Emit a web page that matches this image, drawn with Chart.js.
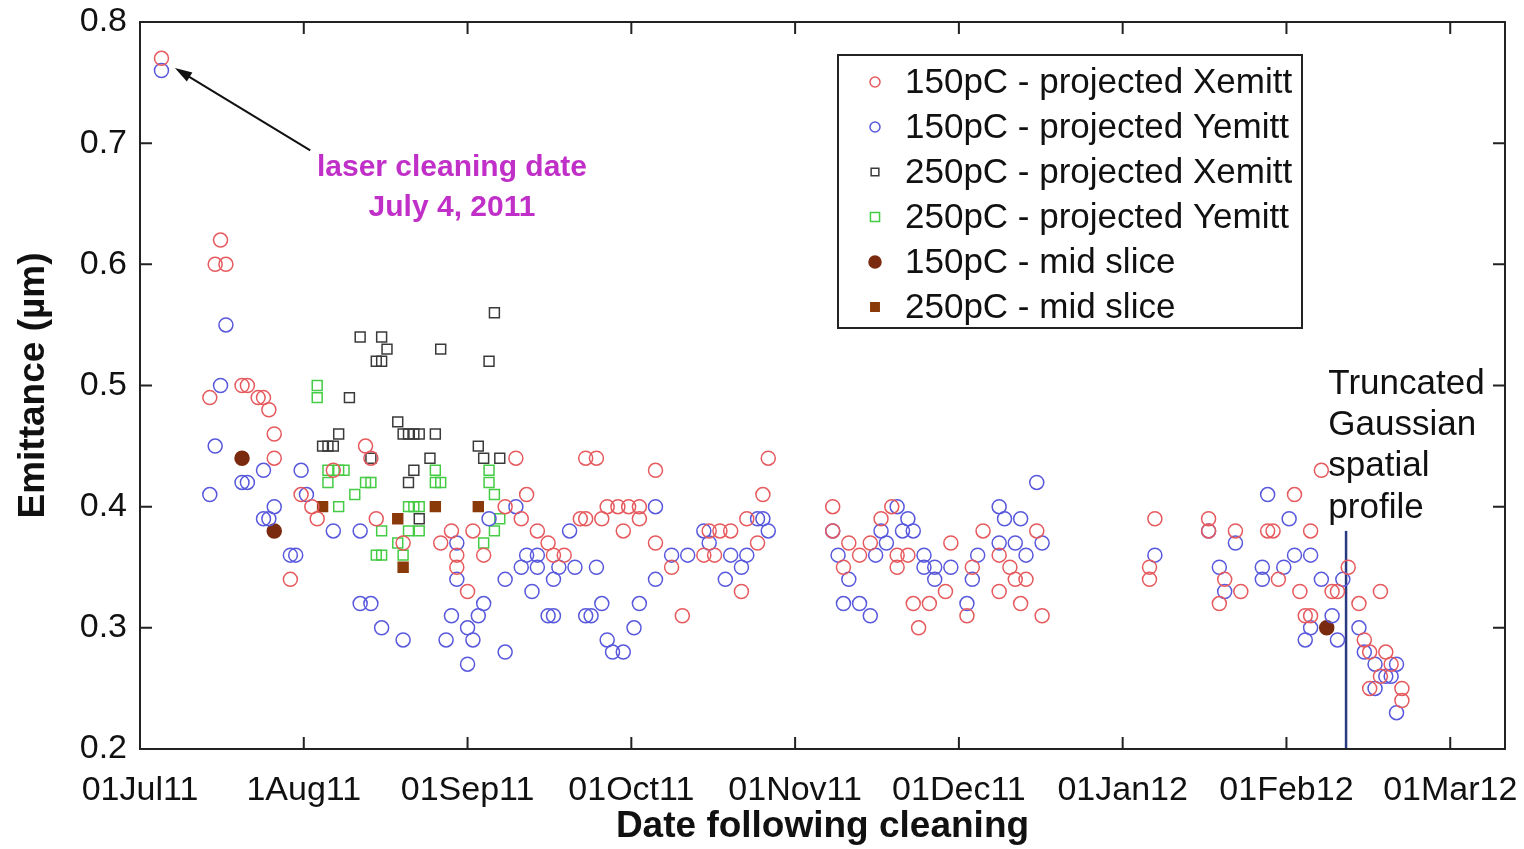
<!DOCTYPE html>
<html>
<head>
<meta charset="utf-8">
<script src="https://cdn.jsdelivr.net/npm/chart.js@4.4.1/dist/chart.umd.min.js"></script>
<style>
  html, body { margin: 0; padding: 0; background: #fff; }
  #wrap { width: 1524px; height: 849px; }
</style>
</head>
<body>
<div id="wrap"><canvas id="emit"></canvas></div>
<script>
// x = days after 01Jul11, y = emittance (um)
const monthLabels = ['01Jul11', '1Aug11', '01Sep11', '01Oct11', '01Nov11', '01Dec11', '01Jan12', '01Feb12', '01Mar12']
const yTicks = [0.2, 0.3, 0.4, 0.5, 0.6, 0.7, 0.8]

const x150 = [[4,0.77],[13,0.49],[14,0.60],[15,0.62],[16,0.60],[19,0.50],[20,0.50],[22,0.49],[23,0.49],[24,0.48],[25,0.46],[25,0.44],[28,0.34],[30,0.41],[32,0.40],[33,0.39],[36,0.43],[42,0.45],[43,0.44],[44,0.39],[49,0.37],[56,0.37],[58,0.38],[59,0.36],[59,0.35],[61,0.33],[62,0.38],[64,0.36],[68,0.40],[70,0.44],[71,0.39],[72,0.41],[74,0.38],[76,0.37],[77,0.36],[79,0.36],[82,0.39],[83,0.39],[83,0.44],[85,0.44],[86,0.39],[87,0.40],[89,0.40],[90,0.38],[91,0.40],[93,0.40],[93,0.39],[96,0.43],[96,0.37],[99,0.35],[101,0.31],[105,0.36],[106,0.38],[107,0.36],[108,0.38],[110,0.38],[112,0.33],[113,0.39],[115,0.37],[116,0.41],[117,0.44],
  [129,0.40],[129,0.38],[131,0.35],[132,0.37],[134,0.36],[136,0.37],[138,0.39],[140,0.40],[141,0.36],[141,0.35],[143,0.36],[144,0.32],[145,0.30],[147,0.32],[150,0.33],[151,0.37],[154,0.31],[155,0.35],[157,0.38],[160,0.33],[160,0.36],[162,0.35],[163,0.34],[164,0.32],[165,0.34],[167,0.38],[168,0.31],
  [188,0.34],[188,0.35],[189,0.39],[199,0.39],[199,0.38],[201,0.32],[202,0.34],[204,0.38],[205,0.33],[210,0.38],[211,0.38],[212,0.34],[215,0.41],[216,0.33],[217,0.31],[218,0.38],[218,0.31],[220,0.43],[222,0.33],[223,0.33],[225,0.35],[227,0.32],[228,0.29],[229,0.28],[229,0.25],[231,0.33],[231,0.26],[232,0.28],[233,0.27],[235,0.25],[235,0.24]]

const y150 = [[4,0.76],[13,0.41],[14,0.45],[15,0.50],[16,0.55],[19,0.42],[20,0.42],[23,0.43],[23,0.39],[24,0.39],[25,0.40],[28,0.36],[29,0.36],[30,0.43],[31,0.41],[36,0.38],[41,0.38],[41,0.32],[43,0.32],[45,0.30],[49,0.29],[57,0.29],[58,0.31],[59,0.37],[59,0.34],[61,0.30],[61,0.27],[62,0.29],[63,0.31],[64,0.32],[65,0.39],[68,0.34],[68,0.28],[70,0.40],[71,0.35],[72,0.36],[73,0.33],[74,0.36],[74,0.35],[76,0.31],[77,0.34],[77,0.31],[78,0.35],[80,0.38],[81,0.35],[83,0.31],[84,0.31],[85,0.35],[86,0.32],[87,0.29],[88,0.28],[90,0.28],[92,0.30],[93,0.32],[96,0.40],[96,0.34],[99,0.36],[102,0.36],[105,0.38],[106,0.37],[109,0.34],[110,0.36],[112,0.35],[113,0.36],[115,0.39],[116,0.39],[117,0.38],
  [129,0.38],[130,0.36],[131,0.32],[132,0.34],[134,0.32],[136,0.31],[137,0.36],[138,0.38],[139,0.37],[141,0.40],[142,0.38],[143,0.39],[144,0.38],[146,0.36],[146,0.35],[148,0.35],[148,0.34],[151,0.35],[154,0.32],[155,0.34],[156,0.36],[160,0.40],[160,0.37],[161,0.39],[163,0.37],[164,0.39],[165,0.36],[167,0.42],[168,0.37],
  [189,0.36],[199,0.38],[201,0.35],[202,0.33],[204,0.37],[209,0.35],[209,0.34],[210,0.41],[213,0.35],[214,0.39],[215,0.36],[217,0.29],[218,0.36],[218,0.30],[220,0.34],[222,0.31],[223,0.29],[224,0.34],[227,0.30],[228,0.28],[230,0.27],[230,0.25],[232,0.26],[233,0.26],[234,0.27],[234,0.23]]

const x250 = [[34,0.45],[35,0.45],[36,0.45],[37,0.46],[39,0.49],[41,0.54],[43,0.44],[44,0.52],[45,0.54],[45,0.52],[46,0.53],[48,0.47],[49,0.46],[50,0.46],[50,0.42],[51,0.46],[51,0.43],[52,0.46],[52,0.39],[54,0.44],[55,0.46],[56,0.53],[63,0.45],[64,0.44],[65,0.52],[66,0.56],[67,0.44]]

const y250 = [[33,0.50],[33,0.49],[35,0.42],[35,0.43],[37,0.40],[37,0.43],[38,0.43],[40,0.41],[42,0.42],[43,0.42],[44,0.36],[45,0.38],[45,0.36],[48,0.37],[49,0.36],[50,0.40],[50,0.38],[51,0.40],[52,0.40],[52,0.38],[55,0.42],[55,0.43],[56,0.42],[64,0.37],[65,0.42],[65,0.43],[66,0.41],[66,0.38],[67,0.39]]

const mid150 = [[19,0.44],[25,0.38],[221,0.30]]
const mid250 = [[34,0.40],[48,0.39],[49,0.35],[55,0.40],[63,0.40]]

// switch to truncated gaussian profile
const profileLine = [[224.6,0.2],[224.6,0.38]]

const pts = arr => arr.map(p => ({x: p[0], y: p[1]}))
const tickDays = monthLabels.map((_, i) => i * 30.5)

const series = [
  { label: '150pC - projected Xemitt', data: pts(x150), pointStyle: 'circle', pointRadius: 7, borderColor: '#e65a5e', backgroundColor: 'rgba(0,0,0,0)', legendR: 5 },
  { label: '150pC - projected Yemitt', data: pts(y150), pointStyle: 'circle', pointRadius: 7, borderColor: '#5858dc', backgroundColor: 'rgba(0,0,0,0)', legendR: 5 },
  { label: '250pC - projected Xemitt', data: pts(x250), pointStyle: 'rect', pointRadius: 7, borderColor: '#3a3a3a', backgroundColor: 'rgba(0,0,0,0)', legendR: 5.5 },
  { label: '250pC - projected Yemitt', data: pts(y250), pointStyle: 'rect', pointRadius: 7, borderColor: '#44cc44', backgroundColor: 'rgba(0,0,0,0)', legendR: 6.5 },
  { label: '150pC - mid slice', data: pts(mid150), pointStyle: 'circle', pointRadius: 7, borderColor: '#7a2a0e', backgroundColor: '#7a2a0e', legendR: 6 },
  { label: '250pC - mid slice', data: pts(mid250), pointStyle: 'rect', pointRadius: 7, borderColor: '#8a3a0a', backgroundColor: '#8a3a0a', legendR: 6 },
]

const FONT = "'Liberation Sans', Arial, sans-serif"

const framePlugin = {
  id: 'frame',
  afterDatasetsDraw(chart) {
    const ctx = chart.ctx
    const a = chart.chartArea
    const xs = chart.scales.x, ys = chart.scales.y
    ctx.save()

    // box + inward ticks
    ctx.strokeStyle = '#222'
    ctx.lineWidth = 2
    ctx.strokeRect(a.left, a.top, a.right - a.left, a.bottom - a.top)
    const tl = 12
    tickDays.forEach(d => {
      const px = xs.getPixelForValue(d)
      ctx.beginPath()
      ctx.moveTo(px, a.bottom); ctx.lineTo(px, a.bottom - tl)
      ctx.moveTo(px, a.top); ctx.lineTo(px, a.top + tl)
      ctx.stroke()
    })
    yTicks.forEach(v => {
      const py = ys.getPixelForValue(v)
      ctx.beginPath()
      ctx.moveTo(a.left, py); ctx.lineTo(a.left + tl, py)
      ctx.moveTo(a.right, py); ctx.lineTo(a.right - tl, py)
      ctx.stroke()
    })

    // arrow to cleaning date point
    const tx = xs.getPixelForValue(31.7), ty = ys.getPixelForValue(0.694)
    const hx = xs.getPixelForValue(6.5), hy = ys.getPixelForValue(0.762)
    const ang = Math.atan2(hy - ty, hx - tx)
    ctx.strokeStyle = '#111'
    ctx.fillStyle = '#111'
    ctx.lineWidth = 2
    ctx.beginPath(); ctx.moveTo(tx, ty); ctx.lineTo(hx - 12 * Math.cos(ang), hy - 12 * Math.sin(ang)); ctx.stroke()
    ctx.beginPath()
    ctx.moveTo(hx, hy)
    ctx.lineTo(hx - 18 * Math.cos(ang - 0.3), hy - 18 * Math.sin(ang - 0.3))
    ctx.lineTo(hx - 18 * Math.cos(ang + 0.3), hy - 18 * Math.sin(ang + 0.3))
    ctx.closePath(); ctx.fill()

    ctx.fillStyle = '#c030c8'
    ctx.font = 'bold 30px ' + FONT
    ctx.textAlign = 'center'
    ctx.textBaseline = 'middle'
    ctx.fillText('laser cleaning date', xs.getPixelForValue(58.1), ys.getPixelForValue(0.68))
    ctx.fillText('July 4, 2011', xs.getPixelForValue(58.1), ys.getPixelForValue(0.647))

    // truncated gaussian note
    ctx.fillStyle = '#111'
    ctx.font = '35px ' + FONT
    ctx.textAlign = 'left'
    const noteX = xs.getPixelForValue(221.3)
    ;[['Truncated', 0.501], ['Gaussian', 0.467], ['spatial', 0.433], ['profile', 0.399]].forEach(([t, v]) => {
      ctx.fillText(t, noteX, ys.getPixelForValue(v))
    })

    // legend box
    const bx = a.right - 667, by = a.top + 33, bw = 464, bh = 273
    ctx.fillStyle = '#fff'
    ctx.fillRect(bx, by, bw, bh)
    ctx.strokeStyle = '#222'
    ctx.lineWidth = 2
    ctx.strokeRect(bx, by, bw, bh)
    ctx.font = '35px ' + FONT
    series.forEach((s, i) => {
      const cy = by + 27 + i * 45
      const cx = bx + 37
      ctx.lineWidth = 1.5
      ctx.strokeStyle = s.borderColor
      ctx.fillStyle = s.backgroundColor
      ctx.beginPath()
      if (s.pointStyle === 'circle') ctx.arc(cx, cy, s.legendR, 0, Math.PI * 2)
      else ctx.rect(cx - s.legendR * 0.7, cy - s.legendR * 0.7, s.legendR * 1.4, s.legendR * 1.4)
      ctx.fill(); ctx.stroke()
      ctx.fillStyle = '#111'
      ctx.fillText(s.label, bx + 67, cy + 1)
    })
    ctx.restore()
  }
}

new Chart(document.getElementById('emit'), {
  type: 'scatter',
  data: {
    datasets: [
      ...series.map(s => ({
        label: s.label,
        data: s.data,
        pointStyle: s.pointStyle,
        pointRadius: s.pointRadius,
        pointHoverRadius: s.pointRadius,
        borderColor: s.borderColor,
        backgroundColor: s.backgroundColor,
        pointBorderWidth: 1.5,
      })),
      {
        type: 'line',
        label: 'profile change',
        data: pts(profileLine),
        borderColor: '#2a3a80',
        borderWidth: 2.5,
        pointRadius: 0,
        fill: false,
      }
    ]
  },
  options: {
    responsive: true,
    maintainAspectRatio: false,
    animation: false,
    layout: { padding: { left: 0, right: 19, top: 22, bottom: 0 } },
    scales: {
      x: {
        type: 'linear',
        min: 0,
        max: 254.2,
        grid: { display: false },
        border: { display: false },
        afterBuildTicks: s => { s.ticks = tickDays.map(v => ({ value: v })) },
        afterFit: s => { s.height = 100; s.paddingLeft = 0; s.paddingRight = 0 },
        ticks: {
          autoSkip: false,
          maxRotation: 0,
          padding: 13,
          color: '#111',
          font: { family: FONT, size: 34 },
          callback: (v, i) => monthLabels[i]
        },
        title: {
          display: true,
          text: 'Date following cleaning',
          color: '#111',
          font: { family: FONT, size: 37, weight: 'bold' },
          padding: { top: 0, bottom: 0 }
        }
      },
      y: {
        min: 0.2,
        max: 0.8,
        grid: { display: false },
        border: { display: false },
        afterBuildTicks: s => { s.ticks = yTicks.map(v => ({ value: v })) },
        afterFit: s => { s.width = 140; s.paddingTop = 0; s.paddingBottom = 0 },
        ticks: {
          padding: 5,
          color: '#111',
          font: { family: FONT, size: 34 },
          callback: v => v.toFixed(1)
        },
        title: {
          display: true,
          text: 'Emittance (µm)',
          color: '#111',
          font: { family: FONT, size: 37, weight: 'bold' },
          padding: { top: 12, bottom: 0 }
        }
      }
    },
    plugins: {
      legend: { display: false },
      tooltip: { enabled: false }
    }
  },
  plugins: [framePlugin]
})
</script>
</body>
</html>
